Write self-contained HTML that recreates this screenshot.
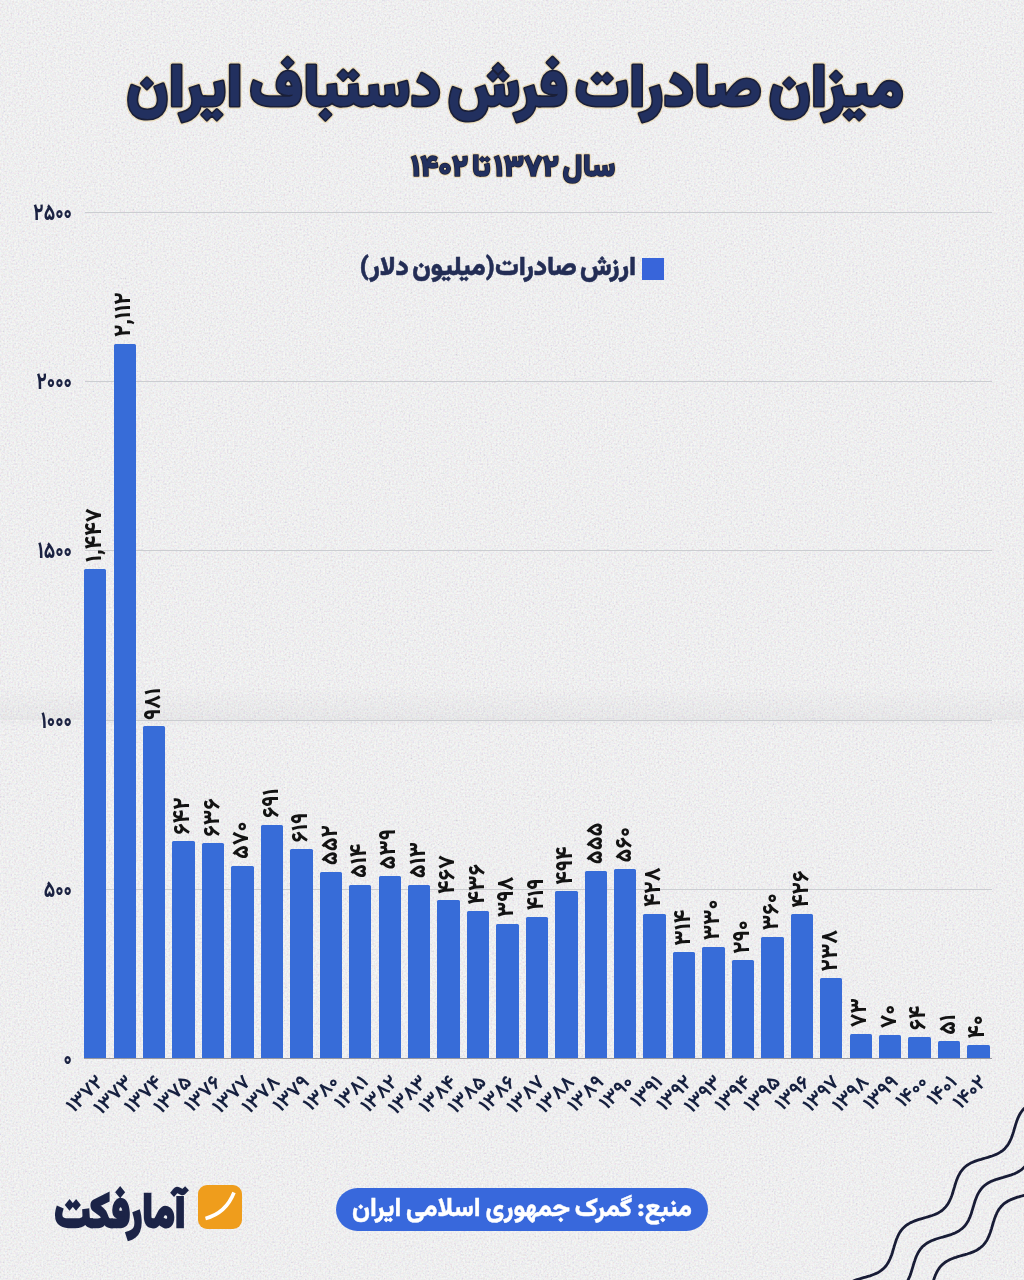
<!DOCTYPE html>
<html lang="fa"><head><meta charset="utf-8">
<style>
html,body{margin:0;padding:0}
body{width:1024px;height:1280px;overflow:hidden;position:relative;background:#f9f9fa;font-family:"Vazirmatn","DejaVu Sans",sans-serif;color:#232d55}
.grid{position:absolute;left:85px;width:907px;height:1px;background:#cbcdd1}
.axis{position:absolute;left:84px;width:908px;height:1.2px;background:#9a9aa0}
.bar{position:absolute;width:22.4px;background:#376cd8;border-radius:1.5px 1.5px 0 0}
#legend-sq{position:absolute;left:642px;top:258.2px;width:21.5px;height:21.4px;background:#3865da}
#src{position:absolute;left:336px;top:1188px;width:372px;height:43px;border-radius:21.5px;background:#3868dc}
#logo-ic{position:absolute;left:198px;top:1185px;width:44px;height:44px;border-radius:9px;background:#ef9d1c}
#logo-ic svg{position:absolute;left:0;top:0}
#lbl text{font-family:Vazirmatn,"DejaVu Sans",sans-serif}
.vl{font-weight:800;font-size:23px;letter-spacing:-0.8px;fill:#131313}
.xl{font-weight:700;font-size:20px;fill:#16203f}
.yl{font-weight:800;font-size:23.5px;fill:#1b2242}

</style></head><body>
<svg id="noise" width="1024" height="1280" style="position:absolute;left:0;top:0"><filter id="nf" x="0" y="0" width="100%" height="100%"><feTurbulence type="fractalNoise" baseFrequency="0.55" numOctaves="2" seed="7"/><feColorMatrix type="matrix" values="1.7 0 0 0 -0.35  0 1.7 0 0 -0.35  0 0 1.7 0 -0.35  0 0 0 0 1"/><feColorMatrix type="saturate" values="0.4"/></filter><rect width="1024" height="1280" filter="url(#nf)" opacity="0.17"/></svg>
<div id="fold" style="position:absolute;left:0;top:686px;width:1024px;height:40px;background:linear-gradient(to bottom, rgba(20,20,40,0) 0%, rgba(20,20,40,0.035) 80%, rgba(20,20,40,0.05) 83%, rgba(20,20,40,0.0) 86%, rgba(20,20,40,0.02) 90%, rgba(20,20,40,0) 100%)"></div>
<div id="legend-sq"></div>
<div id="src"></div>
<svg id="txt" width="1024" height="1280" viewBox="0 0 1024 1280" style="position:absolute;left:0;top:0;overflow:visible">
<text x="515" y="106" text-anchor="middle" direction="rtl" fill="none" stroke="#ead5aa" stroke-opacity="0.75" stroke-width="5.6" stroke-linejoin="round" style="font-family:Vazirmatn,&quot;DejaVu Sans&quot;,sans-serif;font-weight:900;font-size:60px;word-spacing:-8px" textLength="777.6" lengthAdjust="spacingAndGlyphs">میزان صادرات فرش دستباف ایران</text>
<text x="515" y="106" text-anchor="middle" direction="rtl" fill="#22305f" stroke="#1a1f38" stroke-width="3.2" stroke-linejoin="round" paint-order="stroke" style="font-family:Vazirmatn,&quot;DejaVu Sans&quot;,sans-serif;font-weight:900;font-size:60px;word-spacing:-8px" textLength="777.6" lengthAdjust="spacingAndGlyphs">میزان صادرات فرش دستباف ایران</text>
<text x="513" y="175.5" text-anchor="middle" direction="rtl" fill="none" stroke="#ead5aa" stroke-opacity="0.8" stroke-width="3.6" stroke-linejoin="round" style="font-family:Vazirmatn,&quot;DejaVu Sans&quot;,sans-serif;font-weight:900;font-size:30px;word-spacing:-4px" textLength="204.5" lengthAdjust="spacingAndGlyphs">سال ۱۳۷۲ تا ۱۴۰۲</text>
<text x="513" y="175.5" text-anchor="middle" direction="rtl" fill="#22305f" stroke="#1a1f38" stroke-width="1.6" stroke-linejoin="round" paint-order="stroke" style="font-family:Vazirmatn,&quot;DejaVu Sans&quot;,sans-serif;font-weight:900;font-size:30px;word-spacing:-4px" textLength="204.5" lengthAdjust="spacingAndGlyphs">سال ۱۳۷۲ تا ۱۴۰۲</text>
<text x="497.8" y="274.6" text-anchor="middle" direction="rtl" fill="#232d55" stroke="#232d55" stroke-width="0.5" style="font-family:Vazirmatn,&quot;DejaVu Sans&quot;,sans-serif;font-weight:900;font-size:26.2px;word-spacing:-3px" textLength="276.4" lengthAdjust="spacingAndGlyphs">ارزش صادرات(میلیون دلار)</text>
<text x="522" y="1215.8" text-anchor="middle" direction="rtl" fill="#fff" stroke="#fff" stroke-width="0.4" style="font-family:Vazirmatn,&quot;DejaVu Sans&quot;,sans-serif;font-weight:800;font-size:25.8px;word-spacing:-1.5px" textLength="340" lengthAdjust="spacingAndGlyphs">منبع: گمرک جمهوری اسلامی ایران</text>
<text x="120" y="1227" text-anchor="middle" direction="rtl" fill="#1c2447" stroke="#1c2447" stroke-width="2.5" style="font-family:Vazirmatn,&quot;DejaVu Sans&quot;,sans-serif;font-weight:900;font-size:48px" textLength="131.1" lengthAdjust="spacingAndGlyphs">آمارفکت</text>
</svg>

<div id="logo-ic"><svg width="44" height="44" viewBox="0 0 44 44"><path d="M7.5,33.5 Q28,28 36,7.5" fill="none" stroke="#fff" stroke-width="3.6" stroke-linecap="butt"/></svg></div>
<svg id="waves" width="1024" height="1280" viewBox="0 0 1024 1280" style="position:absolute;left:0;top:0" fill="none" stroke="#181c36" stroke-width="2.8" stroke-linecap="round"><path d="M832.2,1311.8 L832.8,1309.6 L833.5,1307.4 L834.1,1305.2 L834.8,1303.0 L835.5,1300.9 L836.3,1298.8 L837.1,1296.7 L838.0,1294.8 L839.0,1292.9 L840.1,1291.2 L841.3,1289.5 L842.6,1288.0 L844.0,1286.6 L845.6,1285.3 L847.2,1284.1 L849.0,1283.0 L850.9,1282.1 L852.8,1281.2 L854.9,1280.4 L857.0,1279.7 L859.1,1279.0 L861.3,1278.3 L863.5,1277.7 L865.7,1277.1 L867.9,1276.4 L870.1,1275.8 L872.2,1275.0 L874.2,1274.2 L876.2,1273.4 L878.1,1272.4 L879.9,1271.4 L881.5,1270.2 L883.1,1268.9 L884.5,1267.5 L885.9,1266.0 L887.1,1264.3 L888.2,1262.6 L889.2,1260.7 L890.1,1258.8 L890.9,1256.8 L891.7,1254.7 L892.4,1252.5 L893.0,1250.4 L893.7,1248.2 L894.3,1246.0 L895.0,1243.8 L895.7,1241.6 L896.4,1239.5 L897.3,1237.5 L898.1,1235.5 L899.1,1233.6 L900.2,1231.8 L901.4,1230.2 L902.7,1228.6 L904.1,1227.2 L905.6,1225.9 L907.2,1224.7 L909.0,1223.6 L910.8,1222.6 L912.8,1221.7 L914.8,1220.9 L916.9,1220.1 L919.0,1219.4 L921.2,1218.8 L923.4,1218.2 L925.6,1217.5 L927.8,1216.9 L930.0,1216.2 L932.1,1215.5 L934.2,1214.7 L936.2,1213.9 L938.1,1212.9 L939.9,1211.9 L941.6,1210.8 L943.1,1209.5 L944.6,1208.1 L945.9,1206.6 L947.2,1205.0 L948.3,1203.3 L949.3,1201.4 L950.2,1199.5 L951.1,1197.5 L951.9,1195.4 L952.6,1193.3 L953.2,1191.1 L953.9,1188.9 L954.6,1186.7 L955.2,1184.5 L955.9,1182.4 L956.6,1180.2 L957.4,1178.2 L958.3,1176.2 L959.3,1174.3 L960.3,1172.5 L961.5,1170.8 L962.7,1169.3 L964.1,1167.8 L965.6,1166.5 L967.2,1165.2 L969.0,1164.1 L970.8,1163.1 L972.7,1162.2 L974.7,1161.4 L976.8,1160.6 L979.0,1159.9 L981.1,1159.3 L983.3,1158.6 L985.6,1158.0 L987.8,1157.4 L989.9,1156.7 L992.1,1156.0 L994.1,1155.2 L996.1,1154.4 L998.0,1153.5 L999.9,1152.4 L1001.6,1151.3 L1003.2,1150.1 L1004.7,1148.7 L1006.0,1147.2 L1007.3,1145.6 L1008.4,1143.9 L1009.5,1142.1 L1010.4,1140.2 L1011.3,1138.2 L1012.0,1136.2 L1012.8,1134.0 L1013.5,1131.9 L1014.1,1129.7 L1014.8,1127.5 L1015.4,1125.3 L1016.1,1123.1 L1016.8,1121.0 L1017.6,1118.9 L1018.5,1116.9 L1019.4,1115.0 L1020.4,1113.2 L1021.6,1111.5 L1022.8,1109.9 L1024.2,1108.4 L1025.7,1107.0 L1027.3,1105.8 L1029.0,1104.7 L1030.8,1103.6 L1032.7,1102.7 L1034.7,1101.9 L1036.8,1101.1 L1038.9,1100.4 L1041.1,1099.7 L1043.3,1099.1 L1045.5,1098.5 L1047.7,1097.8 L1049.9,1097.2 L1052.0,1096.5 L1054.1,1095.7 L1056.1,1094.9 L1058.0,1094.0 L1059.9,1093.0 L1061.6,1091.9 L1063.2,1090.7"/><path d="M872.4,1299.9 L874.0,1299.3 L875.6,1298.8 L877.2,1298.2 L878.8,1297.7 L880.5,1297.3 L882.1,1296.8 L883.8,1296.3 L885.5,1295.8 L887.1,1295.3 L888.8,1294.8 L890.4,1294.3 L891.9,1293.7 L893.5,1293.1 L895.0,1292.5 L896.4,1291.8 L897.8,1291.0 L899.1,1290.2 L900.4,1289.3 L901.6,1288.4 L902.7,1287.3 L903.8,1286.3 L904.8,1285.1 L905.7,1283.9 L906.6,1282.6 L907.4,1281.3 L908.1,1279.9 L908.8,1278.4 L909.5,1276.9 L910.1,1275.4 L910.7,1273.8 L911.2,1272.2 L911.7,1270.6 L912.2,1268.9 L912.7,1267.3 L913.2,1265.6 L913.7,1263.9 L914.2,1262.3 L914.8,1260.7 L915.3,1259.1 L915.9,1257.5 L916.5,1256.0 L917.2,1254.5 L917.9,1253.1 L918.7,1251.7 L919.5,1250.4 L920.4,1249.1 L921.4,1248.0 L922.4,1246.8 L923.5,1245.8 L924.7,1244.8 L925.9,1243.9 L927.2,1243.0 L928.6,1242.2 L930.0,1241.5 L931.4,1240.8 L932.9,1240.2 L934.5,1239.6 L936.1,1239.0 L937.7,1238.5 L939.3,1238.0 L941.0,1237.5 L942.7,1237.1 L944.3,1236.6 L946.0,1236.1 L947.6,1235.6 L949.3,1235.1 L950.9,1234.6 L952.4,1234.0 L954.0,1233.4 L955.5,1232.7 L956.9,1232.0 L958.3,1231.3 L959.6,1230.4 L960.8,1229.5 L962.0,1228.6 L963.2,1227.6 L964.2,1226.5 L965.2,1225.3 L966.1,1224.1 L967.0,1222.8 L967.8,1221.5 L968.6,1220.1 L969.2,1218.6 L969.9,1217.1 L970.5,1215.6 L971.1,1214.0 L971.6,1212.4 L972.1,1210.7 L972.6,1209.1 L973.1,1207.4 L973.6,1205.8 L974.1,1204.1 L974.6,1202.5 L975.1,1200.8 L975.7,1199.2 L976.3,1197.7 L976.9,1196.2 L977.6,1194.7 L978.3,1193.3 L979.1,1191.9 L980.0,1190.6 L980.9,1189.4 L981.8,1188.2 L982.9,1187.1 L984.0,1186.0 L985.1,1185.0 L986.4,1184.1 L987.7,1183.3 L989.0,1182.5 L990.4,1181.8 L991.9,1181.1 L993.4,1180.5 L995.0,1179.9 L996.6,1179.3 L998.2,1178.8 L999.8,1178.3 L1001.5,1177.8 L1003.2,1177.4 L1004.8,1176.9 L1006.5,1176.4 L1008.1,1175.9 L1009.8,1175.4 L1011.4,1174.9 L1012.9,1174.3 L1014.5,1173.7 L1015.9,1173.0 L1017.4,1172.3 L1018.7,1171.5 L1020.0,1170.7 L1021.3,1169.8 L1022.5,1168.8 L1023.6,1167.8 L1024.7,1166.7 L1025.6,1165.5 L1026.6,1164.3 L1027.4,1163.0 L1028.2,1161.7 L1029.0,1160.3 L1029.7,1158.8 L1030.3,1157.3 L1030.9,1155.7 L1031.5,1154.2 L1032.0,1152.5 L1032.5,1150.9 L1033.0,1149.2 L1033.5,1147.6 L1034.0,1145.9 L1034.5,1144.3 L1035.0,1142.6 L1035.5,1141.0 L1036.1,1139.4 L1036.7,1137.9 L1037.3,1136.3 L1038.0,1134.9 L1038.7,1133.5 L1039.5,1132.1 L1040.4,1130.8 L1041.3,1129.6 L1042.3,1128.4"/><path d="M909.7,1312.7 L911.0,1312.2 L912.3,1311.7 L913.6,1311.2 L914.8,1310.6 L916.0,1310.0 L917.2,1309.3 L918.3,1308.6 L919.4,1307.9 L920.4,1307.1 L921.4,1306.3 L922.3,1305.4 L923.2,1304.5 L924.0,1303.5 L924.8,1302.5 L925.6,1301.4 L926.3,1300.3 L926.9,1299.1 L927.6,1297.9 L928.1,1296.7 L928.7,1295.4 L929.2,1294.1 L929.7,1292.8 L930.2,1291.4 L930.6,1290.1 L931.1,1288.7 L931.5,1287.3 L931.9,1285.9 L932.3,1284.5 L932.7,1283.1 L933.2,1281.7 L933.6,1280.3 L934.0,1278.9 L934.5,1277.6 L935.0,1276.2 L935.5,1274.9 L936.1,1273.7 L936.7,1272.4 L937.3,1271.2 L938.0,1270.1 L938.7,1269.0 L939.4,1267.9 L940.2,1266.9 L941.0,1265.9 L941.9,1265.0 L942.9,1264.1 L943.9,1263.3 L944.9,1262.5 L946.0,1261.8 L947.1,1261.1 L948.3,1260.4 L949.5,1259.8 L950.7,1259.2 L952.0,1258.7 L953.3,1258.2 L954.6,1257.7 L956.0,1257.3 L957.3,1256.8 L958.7,1256.4 L960.1,1256.0 L961.5,1255.6 L963.0,1255.2 L964.4,1254.8 L965.8,1254.4 L967.2,1254.0 L968.5,1253.5 L969.9,1253.1 L971.2,1252.6 L972.5,1252.1 L973.8,1251.6 L975.0,1251.0 L976.2,1250.4 L977.4,1249.7 L978.5,1249.0 L979.6,1248.3 L980.6,1247.5 L981.6,1246.7 L982.6,1245.8 L983.5,1244.9 L984.3,1243.9 L985.1,1242.9 L985.8,1241.8 L986.6,1240.7 L987.2,1239.6 L987.8,1238.4 L988.4,1237.1 L989.0,1235.9 L989.5,1234.6 L990.0,1233.3 L990.5,1231.9 L990.9,1230.5 L991.4,1229.1 L991.8,1227.7 L992.2,1226.3 L992.6,1224.9 L993.0,1223.5 L993.4,1222.1 L993.9,1220.7 L994.3,1219.4 L994.8,1218.0 L995.3,1216.7 L995.8,1215.4 L996.4,1214.1 L996.9,1212.9 L997.6,1211.7 L998.2,1210.5 L998.9,1209.4 L999.7,1208.3 L1000.5,1207.3 L1001.3,1206.3 L1002.2,1205.4 L1003.1,1204.5 L1004.1,1203.7 L1005.1,1202.9 L1006.2,1202.2 L1007.3,1201.5 L1008.5,1200.8 L1009.7,1200.2 L1010.9,1199.6 L1012.2,1199.1 L1013.5,1198.6 L1014.8,1198.1 L1016.2,1197.6 L1017.5,1197.2 L1018.9,1196.8 L1020.3,1196.4 L1021.7,1196.0 L1023.2,1195.6 L1024.6,1195.2 L1026.0,1194.8 L1027.4,1194.4 L1028.7,1193.9 L1030.1,1193.5 L1031.4,1193.0 L1032.7,1192.5 L1034.0,1192.0 L1035.3,1191.4 L1036.5,1190.8 L1037.6,1190.1 L1038.8,1189.5 L1039.8,1188.7 L1040.9,1187.9 L1041.9,1187.1 L1042.8,1186.2 L1043.7,1185.3 L1044.6,1184.4 L1045.4,1183.3 L1046.1,1182.3 L1046.8,1181.2 L1047.5,1180.0 L1048.1,1178.8 L1048.7,1177.6 L1049.3,1176.3 L1049.8,1175.0 L1050.3,1173.7 L1050.8,1172.4 L1051.2,1171.0 L1051.6,1169.6 L1052.1,1168.2 L1052.5,1166.8"/></svg>

<div class="axis" style="top:1058.00px"></div><div class="grid" style="top:888.75px"></div><div class="grid" style="top:719.50px"></div><div class="grid" style="top:550.25px"></div><div class="grid" style="top:381.00px"></div><div class="grid" style="top:211.75px"></div>
<div class="bar" style="left:84.10px;top:568.69px;height:489.81px"></div><div class="bar" style="left:113.54px;top:343.59px;height:714.91px"></div><div class="bar" style="left:142.98px;top:726.43px;height:332.07px"></div><div class="bar" style="left:172.42px;top:841.18px;height:217.32px"></div><div class="bar" style="left:201.86px;top:843.21px;height:215.29px"></div><div class="bar" style="left:231.30px;top:865.55px;height:192.95px"></div><div class="bar" style="left:260.74px;top:824.60px;height:233.90px"></div><div class="bar" style="left:290.18px;top:848.97px;height:209.53px"></div><div class="bar" style="left:319.62px;top:871.65px;height:186.85px"></div><div class="bar" style="left:349.06px;top:884.51px;height:173.99px"></div><div class="bar" style="left:378.50px;top:876.05px;height:182.45px"></div><div class="bar" style="left:407.94px;top:884.85px;height:173.65px"></div><div class="bar" style="left:437.38px;top:900.42px;height:158.08px"></div><div class="bar" style="left:466.82px;top:910.91px;height:147.59px"></div><div class="bar" style="left:496.26px;top:923.78px;height:134.72px"></div><div class="bar" style="left:525.70px;top:916.67px;height:141.83px"></div><div class="bar" style="left:555.14px;top:891.28px;height:167.22px"></div><div class="bar" style="left:584.58px;top:870.63px;height:187.87px"></div><div class="bar" style="left:614.02px;top:868.94px;height:189.56px"></div><div class="bar" style="left:643.46px;top:913.62px;height:144.88px"></div><div class="bar" style="left:672.90px;top:952.21px;height:106.29px"></div><div class="bar" style="left:702.34px;top:946.79px;height:111.71px"></div><div class="bar" style="left:731.78px;top:960.34px;height:98.17px"></div><div class="bar" style="left:761.22px;top:936.64px;height:121.86px"></div><div class="bar" style="left:790.66px;top:914.30px;height:144.20px"></div><div class="bar" style="left:820.10px;top:977.94px;height:80.56px"></div><div class="bar" style="left:849.54px;top:1033.79px;height:24.71px"></div><div class="bar" style="left:878.98px;top:1034.81px;height:23.70px"></div><div class="bar" style="left:908.42px;top:1036.84px;height:21.66px"></div><div class="bar" style="left:937.86px;top:1041.24px;height:17.26px"></div><div class="bar" style="left:967.30px;top:1044.96px;height:13.54px"></div>
<svg id="lbl" width="1024" height="1280" viewBox="0 0 1024 1280" style="position:absolute;left:0;top:0;overflow:visible">
<text class="vl" transform="translate(95.30 562.19) rotate(-90)" x="0" y="5.75" textLength="53.84" lengthAdjust="spacingAndGlyphs">۱,۴۴۷</text>
<text class="xl" transform="translate(100.80 1079.5) rotate(-45)" x="0" y="5" text-anchor="end" textLength="42.80" lengthAdjust="spacingAndGlyphs">۱۳۷۲</text>
<text class="vl" transform="translate(124.74 337.09) rotate(-90)" x="0" y="5.75" textLength="44.73" lengthAdjust="spacingAndGlyphs">۲,۱۱۲</text>
<text class="xl" transform="translate(130.24 1079.5) rotate(-45)" x="0" y="5" text-anchor="end" textLength="45.50" lengthAdjust="spacingAndGlyphs">۱۳۷۳</text>
<text class="vl" transform="translate(154.18 719.93) rotate(-90)" x="0" y="5.75" textLength="32.08" lengthAdjust="spacingAndGlyphs">۹۸۱</text>
<text class="xl" transform="translate(159.68 1079.5) rotate(-45)" x="0" y="5" text-anchor="end" textLength="43.75" lengthAdjust="spacingAndGlyphs">۱۳۷۴</text>
<text class="vl" transform="translate(183.62 834.68) rotate(-90)" x="0" y="5.75" textLength="37.26" lengthAdjust="spacingAndGlyphs">۶۴۲</text>
<text class="xl" transform="translate(189.12 1079.5) rotate(-45)" x="0" y="5" text-anchor="end" textLength="44.12" lengthAdjust="spacingAndGlyphs">۱۳۷۵</text>
<text class="vl" transform="translate(213.06 836.71) rotate(-90)" x="0" y="5.75" textLength="38.43" lengthAdjust="spacingAndGlyphs">۶۳۶</text>
<text class="xl" transform="translate(218.56 1079.5) rotate(-45)" x="0" y="5" text-anchor="end" textLength="42.06" lengthAdjust="spacingAndGlyphs">۱۳۷۶</text>
<text class="vl" transform="translate(242.50 859.05) rotate(-90)" x="0" y="5.75" textLength="37.70" lengthAdjust="spacingAndGlyphs">۵۷۰</text>
<text class="xl" transform="translate(248.00 1079.5) rotate(-45)" x="0" y="5" text-anchor="end" textLength="44.11" lengthAdjust="spacingAndGlyphs">۱۳۷۷</text>
<text class="vl" transform="translate(271.94 818.10) rotate(-90)" x="0" y="5.75" textLength="29.72" lengthAdjust="spacingAndGlyphs">۶۹۱</text>
<text class="xl" transform="translate(277.44 1079.5) rotate(-45)" x="0" y="5" text-anchor="end" textLength="44.11" lengthAdjust="spacingAndGlyphs">۱۳۷۸</text>
<text class="vl" transform="translate(301.38 842.47) rotate(-90)" x="0" y="5.75" textLength="29.72" lengthAdjust="spacingAndGlyphs">۶۱۹</text>
<text class="xl" transform="translate(306.88 1079.5) rotate(-45)" x="0" y="5" text-anchor="end" textLength="41.91" lengthAdjust="spacingAndGlyphs">۱۳۷۹</text>
<text class="vl" transform="translate(330.82 865.15) rotate(-90)" x="0" y="5.75" textLength="40.06" lengthAdjust="spacingAndGlyphs">۵۵۲</text>
<text class="xl" transform="translate(336.32 1079.5) rotate(-45)" x="0" y="5" text-anchor="end" textLength="40.77" lengthAdjust="spacingAndGlyphs">۱۳۸۰</text>
<text class="vl" transform="translate(360.26 878.01) rotate(-90)" x="0" y="5.75" textLength="34.23" lengthAdjust="spacingAndGlyphs">۵۱۴</text>
<text class="xl" transform="translate(365.76 1079.5) rotate(-45)" x="0" y="5" text-anchor="end" textLength="38.11" lengthAdjust="spacingAndGlyphs">۱۳۸۱</text>
<text class="vl" transform="translate(389.70 869.55) rotate(-90)" x="0" y="5.75" textLength="40.61" lengthAdjust="spacingAndGlyphs">۵۳۹</text>
<text class="xl" transform="translate(395.20 1079.5) rotate(-45)" x="0" y="5" text-anchor="end" textLength="42.80" lengthAdjust="spacingAndGlyphs">۱۳۸۲</text>
<text class="vl" transform="translate(419.14 878.35) rotate(-90)" x="0" y="5.75" textLength="36.25" lengthAdjust="spacingAndGlyphs">۵۱۳</text>
<text class="xl" transform="translate(424.64 1079.5) rotate(-45)" x="0" y="5" text-anchor="end" textLength="45.50" lengthAdjust="spacingAndGlyphs">۱۳۸۳</text>
<text class="vl" transform="translate(448.58 893.92) rotate(-90)" x="0" y="5.75" textLength="38.78" lengthAdjust="spacingAndGlyphs">۴۶۷</text>
<text class="xl" transform="translate(454.08 1079.5) rotate(-45)" x="0" y="5" text-anchor="end" textLength="43.75" lengthAdjust="spacingAndGlyphs">۱۳۸۴</text>
<text class="vl" transform="translate(478.02 904.41) rotate(-90)" x="0" y="5.75" textLength="40.37" lengthAdjust="spacingAndGlyphs">۴۳۶</text>
<text class="xl" transform="translate(483.52 1079.5) rotate(-45)" x="0" y="5" text-anchor="end" textLength="44.12" lengthAdjust="spacingAndGlyphs">۱۳۸۵</text>
<text class="vl" transform="translate(507.46 917.28) rotate(-90)" x="0" y="5.75" textLength="40.58" lengthAdjust="spacingAndGlyphs">۳۹۸</text>
<text class="xl" transform="translate(512.96 1079.5) rotate(-45)" x="0" y="5" text-anchor="end" textLength="42.06" lengthAdjust="spacingAndGlyphs">۱۳۸۶</text>
<text class="vl" transform="translate(536.90 910.17) rotate(-90)" x="0" y="5.75" textLength="31.67" lengthAdjust="spacingAndGlyphs">۴۱۹</text>
<text class="xl" transform="translate(542.40 1079.5) rotate(-45)" x="0" y="5" text-anchor="end" textLength="44.11" lengthAdjust="spacingAndGlyphs">۱۳۸۷</text>
<text class="vl" transform="translate(566.34 884.78) rotate(-90)" x="0" y="5.75" textLength="38.17" lengthAdjust="spacingAndGlyphs">۴۹۴</text>
<text class="xl" transform="translate(571.84 1079.5) rotate(-45)" x="0" y="5" text-anchor="end" textLength="44.11" lengthAdjust="spacingAndGlyphs">۱۳۸۸</text>
<text class="vl" transform="translate(595.78 864.13) rotate(-90)" x="0" y="5.75" textLength="41.59" lengthAdjust="spacingAndGlyphs">۵۵۵</text>
<text class="xl" transform="translate(601.28 1079.5) rotate(-45)" x="0" y="5" text-anchor="end" textLength="41.91" lengthAdjust="spacingAndGlyphs">۱۳۸۹</text>
<text class="vl" transform="translate(625.22 862.44) rotate(-90)" x="0" y="5.75" textLength="35.36" lengthAdjust="spacingAndGlyphs">۵۶۰</text>
<text class="xl" transform="translate(630.72 1079.5) rotate(-45)" x="0" y="5" text-anchor="end" textLength="38.56" lengthAdjust="spacingAndGlyphs">۱۳۹۰</text>
<text class="vl" transform="translate(654.66 907.12) rotate(-90)" x="0" y="5.75" textLength="39.62" lengthAdjust="spacingAndGlyphs">۴۲۸</text>
<text class="xl" transform="translate(660.16 1079.5) rotate(-45)" x="0" y="5" text-anchor="end" textLength="35.89" lengthAdjust="spacingAndGlyphs">۱۳۹۱</text>
<text class="vl" transform="translate(684.10 945.71) rotate(-90)" x="0" y="5.75" textLength="35.83" lengthAdjust="spacingAndGlyphs">۳۱۴</text>
<text class="xl" transform="translate(689.60 1079.5) rotate(-45)" x="0" y="5" text-anchor="end" textLength="40.59" lengthAdjust="spacingAndGlyphs">۱۳۹۲</text>
<text class="vl" transform="translate(713.54 940.29) rotate(-90)" x="0" y="5.75" textLength="40.89" lengthAdjust="spacingAndGlyphs">۳۳۰</text>
<text class="xl" transform="translate(719.04 1079.5) rotate(-45)" x="0" y="5" text-anchor="end" textLength="43.30" lengthAdjust="spacingAndGlyphs">۱۳۹۳</text>
<text class="vl" transform="translate(742.98 953.84) rotate(-90)" x="0" y="5.75" textLength="33.62" lengthAdjust="spacingAndGlyphs">۲۹۰</text>
<text class="xl" transform="translate(748.48 1079.5) rotate(-45)" x="0" y="5" text-anchor="end" textLength="41.55" lengthAdjust="spacingAndGlyphs">۱۳۹۴</text>
<text class="vl" transform="translate(772.42 930.14) rotate(-90)" x="0" y="5.75" textLength="36.93" lengthAdjust="spacingAndGlyphs">۳۶۰</text>
<text class="xl" transform="translate(777.92 1079.5) rotate(-45)" x="0" y="5" text-anchor="end" textLength="41.92" lengthAdjust="spacingAndGlyphs">۱۳۹۵</text>
<text class="vl" transform="translate(801.86 907.80) rotate(-90)" x="0" y="5.75" textLength="37.26" lengthAdjust="spacingAndGlyphs">۴۲۶</text>
<text class="xl" transform="translate(807.36 1079.5) rotate(-45)" x="0" y="5" text-anchor="end" textLength="39.86" lengthAdjust="spacingAndGlyphs">۱۳۹۶</text>
<text class="vl" transform="translate(831.30 971.44) rotate(-90)" x="0" y="5.75" textLength="41.62" lengthAdjust="spacingAndGlyphs">۲۳۸</text>
<text class="xl" transform="translate(836.80 1079.5) rotate(-45)" x="0" y="5" text-anchor="end" textLength="41.91" lengthAdjust="spacingAndGlyphs">۱۳۹۷</text>
<text class="vl" transform="translate(860.74 1027.29) rotate(-90)" x="0" y="5.75" textLength="29.03" lengthAdjust="spacingAndGlyphs">۷۳</text>
<text class="xl" transform="translate(866.24 1079.5) rotate(-45)" x="0" y="5" text-anchor="end" textLength="41.91" lengthAdjust="spacingAndGlyphs">۱۳۹۸</text>
<text class="vl" transform="translate(890.18 1028.31) rotate(-90)" x="0" y="5.75" textLength="23.57" lengthAdjust="spacingAndGlyphs">۷۰</text>
<text class="xl" transform="translate(895.68 1079.5) rotate(-45)" x="0" y="5" text-anchor="end" textLength="39.69" lengthAdjust="spacingAndGlyphs">۱۳۹۹</text>
<text class="vl" transform="translate(919.62 1030.34) rotate(-90)" x="0" y="5.75" textLength="24.67" lengthAdjust="spacingAndGlyphs">۶۴</text>
<text class="xl" transform="translate(925.12 1079.5) rotate(-45)" x="0" y="5" text-anchor="end" textLength="35.69" lengthAdjust="spacingAndGlyphs">۱۴۰۰</text>
<text class="vl" transform="translate(949.06 1034.74) rotate(-90)" x="0" y="5.75" textLength="20.53" lengthAdjust="spacingAndGlyphs">۵۱</text>
<text class="xl" transform="translate(954.56 1079.5) rotate(-45)" x="0" y="5" text-anchor="end" textLength="33.02" lengthAdjust="spacingAndGlyphs">۱۴۰۱</text>
<text class="vl" transform="translate(978.50 1038.46) rotate(-90)" x="0" y="5.75" textLength="23.17" lengthAdjust="spacingAndGlyphs">۴۰</text>
<text class="xl" transform="translate(984.00 1079.5) rotate(-45)" x="0" y="5" text-anchor="end" textLength="37.72" lengthAdjust="spacingAndGlyphs">۱۴۰۲</text>
<text class="yl" x="72" y="1066.08" text-anchor="end" textLength="8.40" lengthAdjust="spacingAndGlyphs">۰</text>
<text class="yl" x="72" y="896.83" text-anchor="end" textLength="28.34" lengthAdjust="spacingAndGlyphs">۵۰۰</text>
<text class="yl" x="72" y="727.58" text-anchor="end" textLength="31.06" lengthAdjust="spacingAndGlyphs">۱۰۰۰</text>
<text class="yl" x="72" y="558.33" text-anchor="end" textLength="34.23" lengthAdjust="spacingAndGlyphs">۱۵۰۰</text>
<text class="yl" x="72" y="389.08" text-anchor="end" textLength="35.48" lengthAdjust="spacingAndGlyphs">۲۰۰۰</text>
<text class="yl" x="72" y="219.83" text-anchor="end" textLength="38.64" lengthAdjust="spacingAndGlyphs">۲۵۰۰</text>
</svg>
</body></html>
